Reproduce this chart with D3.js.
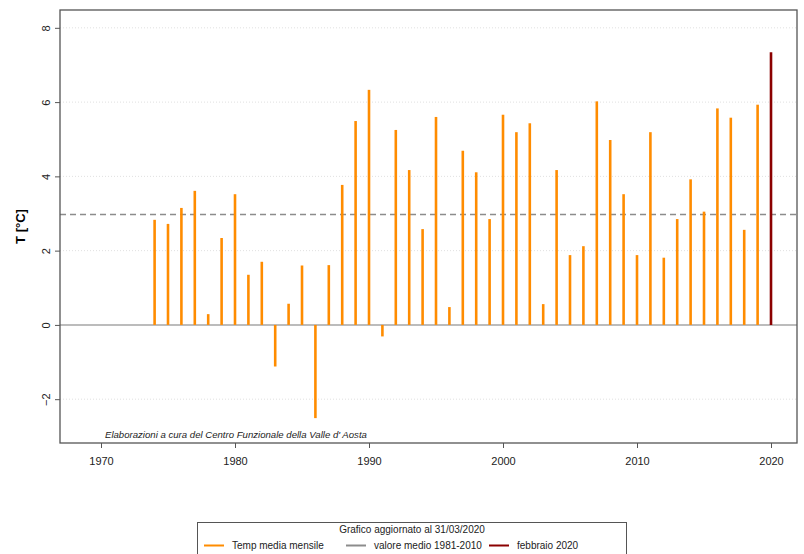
<!DOCTYPE html>
<html>
<head>
<meta charset="utf-8">
<script src="https://cdn.jsdelivr.net/npm/d3@7"></script>
<style>
  html, body { margin: 0; padding: 0; background: #fff; }
  svg { display: block; font-family: "Liberation Sans", Arial, sans-serif; }
</style>
</head>
<body>
<script>
// February mean temperature, one value per year
const years = [1974,1975,1976,1977,1978,1979,1980,1981,1982,1983,1984,1985,1986,1987,1988,1989,
  1990,1991,1992,1993,1994,1995,1996,1997,1998,1999,2000,2001,2002,2003,2004,2005,2006,2007,
  2008,2009,2010,2011,2012,2013,2014,2015,2016,2017,2018,2019,2020];
const temps = [2.83,2.72,3.15,3.61,0.29,2.34,3.52,1.35,1.70,-1.12,0.57,1.60,-2.51,1.61,3.77,5.49,
  6.33,-0.31,5.25,4.17,2.58,5.60,0.48,4.69,4.11,2.85,5.66,5.19,5.43,0.56,4.17,1.88,2.12,6.02,
  4.98,3.52,1.88,5.19,1.81,2.85,3.92,3.05,5.83,5.58,2.56,5.93,7.34];
const currentYear = 2020;
const climateMean = 2.97;           // reference mean 1981-2010
const xTicks = [1970,1980,1990,2000,2010,2020];
const yTicks = [-2,0,2,4,6,8];
const legendTitle = "Grafico aggiornato al 31/03/2020";
const legendItems = ["Temp media mensile", "valore medio 1981-2010", "febbraio 2020"];
const credit = "Elaborazioni a cura del Centro Funzionale della Valle d' Aosta";

const W = 804, H = 554;
const plot = {left: 60, right: 797, top: 10, bottom: 443};
const colOrange = "#FF8C00", colRed = "#8B0000", colGrey = "#8c8c8c";

const svg = d3.select("body").append("svg").attr("width", W).attr("height", H);

const x = d3.scaleLinear().domain([1966.94, 2021.94]).range([plot.left, plot.right]);
const y = d3.scaleLinear().domain([-3.18, 8.48]).range([plot.bottom, plot.top]);

// dotted horizontal grid
svg.append("g").selectAll("line").data(yTicks.filter(d => d !== 0)).join("line")
  .attr("x1", plot.left).attr("x2", plot.right)
  .attr("y1", d => y(d)).attr("y2", d => y(d))
  .attr("stroke", "#e0e0e0").attr("stroke-width", 1).attr("stroke-dasharray", "1,2");

// zero line
svg.append("line")
  .attr("x1", plot.left).attr("x2", plot.right)
  .attr("y1", y(0)).attr("y2", y(0))
  .attr("stroke", "#a6a6a6").attr("stroke-width", 1.5);

// mean line
svg.append("line")
  .attr("x1", plot.left).attr("x2", plot.right)
  .attr("y1", y(climateMean)).attr("y2", y(climateMean))
  .attr("stroke", colGrey).attr("stroke-width", 1.5).attr("stroke-dasharray", "6,4");

// bars as vertical lines from zero
svg.append("g").selectAll("line").data(years.map((yr, i) => ({yr, v: temps[i]}))).join("line")
  .attr("x1", d => x(d.yr)).attr("x2", d => x(d.yr))
  .attr("y1", y(0)).attr("y2", d => y(d.v))
  .attr("stroke", d => d.yr === currentYear ? colRed : colOrange)
  .attr("stroke-width", 2.6);

// frame
svg.append("rect")
  .attr("x", plot.left).attr("y", plot.top)
  .attr("width", plot.right - plot.left).attr("height", plot.bottom - plot.top)
  .attr("fill", "none").attr("stroke", "#555").attr("stroke-width", 1.3);

// x axis
const xAxis = d3.axisBottom(x).tickValues(xTicks).tickFormat(d3.format("d")).tickSize(5).tickPadding(9);
const gx = svg.append("g").attr("transform", `translate(0,${plot.bottom})`).call(xAxis);
gx.select(".domain").remove();
gx.selectAll(".tick line").attr("stroke", "#555");
gx.selectAll(".tick text").attr("font-size", 11).attr("fill", "#222")
  .attr("font-family", "Liberation Sans, Arial, sans-serif");

// y axis with rotated labels
const yAxis = d3.axisLeft(y).tickValues(yTicks).tickFormat(d3.format("d")).tickSize(5);
const gy = svg.append("g").attr("transform", `translate(${plot.left},0)`).call(yAxis);
gy.select(".domain").remove();
gy.selectAll(".tick line").attr("stroke", "#555");
gy.selectAll(".tick text")
  .attr("font-size", 11).attr("fill", "#222")
  .attr("font-family", "Liberation Sans, Arial, sans-serif")
  .attr("x", null).attr("dy", null)
  .attr("text-anchor", "middle")
  .attr("transform", "translate(-14,0) rotate(-90)")
  .attr("dy", "0.35em");

// y axis title
svg.append("text")
  .attr("transform", `translate(25,${(plot.top + plot.bottom) / 2}) rotate(-90)`)
  .attr("text-anchor", "middle")
  .attr("font-size", 13).attr("font-weight", "bold").attr("fill", "#000")
  .text("T [°C]");

// credit line
svg.append("text")
  .attr("x", 105).attr("y", 438)
  .attr("font-size", 9.6).attr("font-style", "italic").attr("fill", "#222")
  .text(credit);

// legend
const lg = svg.append("g");
lg.append("rect").attr("x", 197.5).attr("y", 522.5).attr("width", 429).attr("height", 40)
  .attr("fill", "#fff").attr("stroke", "#555").attr("stroke-width", 1);
lg.append("text").attr("x", 412).attr("y", 533).attr("text-anchor", "middle")
  .attr("font-size", 10).attr("fill", "#222").text(legendTitle);
const legendCols = [{x: 204, c: colOrange}, {x: 346, c: colGrey}, {x: 489, c: colRed}];
legendItems.forEach((t, i) => {
  const lx = legendCols[i].x;
  lg.append("line").attr("x1", lx).attr("x2", lx + 20).attr("y1", 545.5).attr("y2", 545.5)
    .attr("stroke", legendCols[i].c).attr("stroke-width", 2);
  lg.append("text").attr("x", lx + 28).attr("y", 549)
    .attr("font-size", 10).attr("fill", "#222").text(t);
});
</script>
</body>
</html>
